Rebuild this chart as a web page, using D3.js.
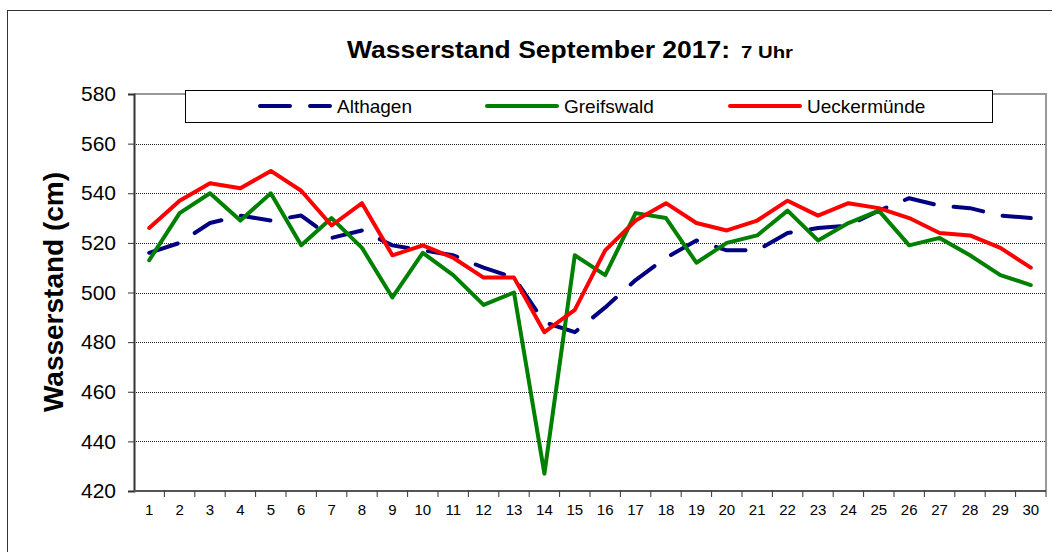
<!DOCTYPE html>
<html>
<head>
<meta charset="utf-8">
<script src="https://cdn.jsdelivr.net/npm/d3@7"></script>
<style>
  body { margin: 0; background: #fff; }
  svg { display: block; font-family: Arial, "Liberation Sans", sans-serif; }
</style>
</head>
<body>
<div id="chart"></div>
<script>
const days = d3.range(1, 31).map(String);
const yTicks = [420, 440, 460, 480, 500, 520, 540, 560, 580];

const althagen = [516, 520, 528, 531, 529, 531, 522, 525, 519, 517,
                  515, 510, 506, 488, 484, 494, 505, 514, 521, 517,
                  517, 524, 526, 527, 533, 538, 535, 534, 531, 530];
const greifswald = [513, 532, 540, 529, 540, 519, 530, 518, 498, 516,
                    507, 495, 500, 427, 515, 507, 532, 530, 512, 520,
                    523, 533, 521, 528, 533, 519, 522, 515, 507, 503];
const ueckermuende = [526, 537, 544, 542, 549, 541, 527, 536, 515, 519,
                      514, 506, 506, 484, 493, 517, 529, 536, 528, 525,
                      529, 537, 531, 536, 534, 530, 524, 523, 518, 510];

const series = [
  {name: "Althagen", values: althagen, color: "#000080", dash: "30,20"},
  {name: "Greifswald", values: greifswald, color: "#008000", dash: null},
  {name: "Ueckermünde", values: ueckermuende, color: "#ff0000", dash: null}
];

const width = 1052, height = 552;
const margin = {top: 94, left: 134};
const innerW = 1046 - margin.left;
const innerH = 491 - margin.top;

const svg = d3.select("#chart").append("svg")
    .attr("width", width)
    .attr("height", height);

// outer chart frame
svg.append("rect")
    .attr("x", 7.5).attr("y", 10.5)
    .attr("width", 1100).attr("height", 600)
    .attr("fill", "none")
    .attr("stroke", "#333")
    .attr("stroke-width", 1);

// title (Excel renders it a bit wide)
svg.append("text")
    .attr("x", 347).attr("y", 58)
    .attr("font-size", "23px")
    .attr("font-weight", "bold")
    .attr("textLength", 383)
    .attr("lengthAdjust", "spacingAndGlyphs")
    .text("Wasserstand September 2017:");
svg.append("text")
    .attr("x", 741).attr("y", 58)
    .attr("font-size", "16px")
    .attr("font-weight", "bold")
    .attr("textLength", 52)
    .attr("lengthAdjust", "spacingAndGlyphs")
    .text("7 Uhr");

const g = svg.append("g")
    .attr("transform", `translate(${margin.left},${margin.top})`);

const x = d3.scaleBand().domain(days).range([0, innerW]);
const y = d3.scaleLinear().domain([420, 580]).range([innerH, 0]);

// dotted gridlines
g.append("g")
  .selectAll("line")
  .data(yTicks.filter(d => d > 420 && d < 580))
  .join("line")
    .attr("x1", 0).attr("x2", innerW)
    .attr("y1", d => Math.round(y(d)) + 0.5)
    .attr("y2", d => Math.round(y(d)) + 0.5)
    .attr("stroke", "#222")
    .attr("stroke-width", 1)
    .attr("stroke-dasharray", "1,1");

// plot area top and right border
g.append("path")
    .attr("d", `M0,${y(580)}H${innerW}V${innerH}`)
    .attr("fill", "none")
    .attr("stroke", "#999")
    .attr("stroke-width", 2);

// y axis
g.append("g")
    .call(d3.axisLeft(y).tickValues(yTicks).tickSize(6).tickPadding(12))
    .call(a => a.select(".domain").attr("stroke", "#333").attr("stroke-width", 2))
    .call(a => a.selectAll(".tick line").attr("stroke", "#333"))
    .call(a => a.selectAll(".tick text")
      .attr("font-size", "21px")
      .attr("font-family", "Arial, 'Liberation Sans', sans-serif")
      .attr("fill", "#000"));

// x axis: ticks at band boundaries
const xAxis = g.append("g")
    .attr("transform", `translate(0,${innerH})`);
xAxis.append("line")
    .attr("x1", 0).attr("x2", innerW)
    .attr("stroke", "#555").attr("stroke-width", 2);
xAxis.selectAll("line.tk")
  .data(days)
  .join("line")
    .attr("class", "tk")
    .attr("x1", d => x(d) + x.bandwidth())
    .attr("x2", d => x(d) + x.bandwidth())
    .attr("y1", 0).attr("y2", 6)
    .attr("stroke", "#333");
xAxis.selectAll("text")
  .data(days)
  .join("text")
    .attr("x", d => x(d) + x.bandwidth() / 2)
    .attr("y", 24)
    .attr("text-anchor", "middle")
    .attr("font-size", "15px")
    .text(d => d);

// y axis label
svg.append("text")
    .attr("transform", "translate(63,292) rotate(-90)")
    .attr("text-anchor", "middle")
    .attr("font-size", "28px")
    .attr("font-weight", "bold")
    .text("Wasserstand (cm)");

// lines
const line = d3.line()
    .x((d, i) => x(days[i]) + x.bandwidth() / 2)
    .y(d => y(d));

g.selectAll("path.series")
  .data(series)
  .join("path")
    .attr("class", "series")
    .attr("d", d => line(d.values))
    .attr("fill", "none")
    .attr("stroke", d => d.color)
    .attr("stroke-width", 4)
    .attr("stroke-linecap", "round")
    .attr("stroke-linejoin", "round")
    .attr("stroke-dasharray", d => d.dash);

// legend
const legend = svg.append("g");
legend.append("rect")
    .attr("x", 185.5).attr("y", 90.5)
    .attr("width", 807).attr("height", 32)
    .attr("fill", "#fff")
    .attr("stroke", "#000");

const legendX = [260, 487, 730];
const item = legend.selectAll("g.item")
  .data(series)
  .join("g")
    .attr("class", "item")
    .attr("transform", (d, i) => `translate(${legendX[i]},106)`);
item.append("line")
    .attr("x1", 0).attr("x2", 70)
    .attr("stroke", d => d.color)
    .attr("stroke-width", 4)
    .attr("stroke-linecap", "round")
    .attr("stroke-dasharray", d => d.dash);
item.append("text")
    .attr("x", 77).attr("y", 7)
    .attr("font-size", "19px")
    .text(d => d.name);
</script>
</body>
</html>
